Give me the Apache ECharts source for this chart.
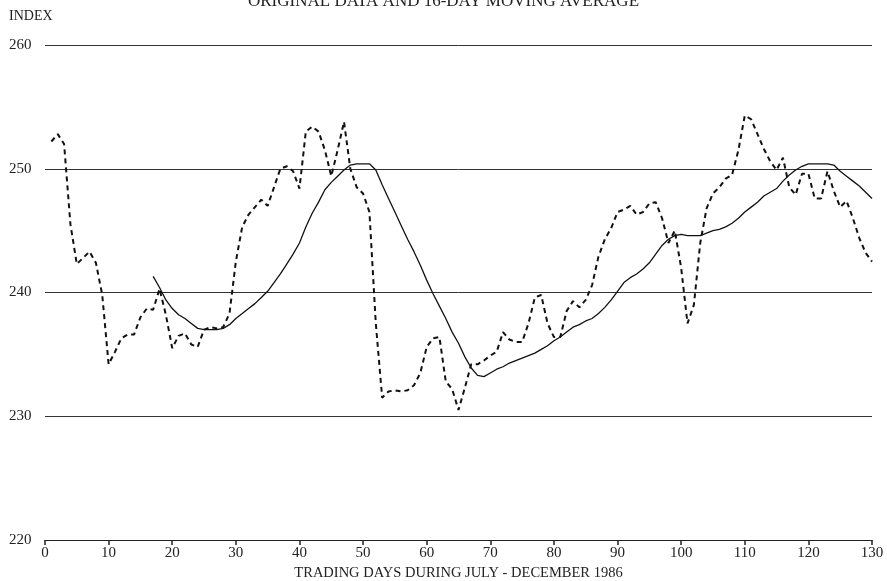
<!DOCTYPE html>
<html>
<head>
<meta charset="utf-8">
<script src="https://cdn.jsdelivr.net/npm/echarts@6/dist/echarts.min.js"></script>
<style>
html,body{margin:0;padding:0;background:#fff;}
#chart{width:887px;height:581px;}
</style>
</head>
<body>
<div id="chart"></div>
<script>
// Original data, trading days 1..130
const originalDays = [];
for (let d = 1; d <= 130; d++) originalDays.push(d);
const originalValues = [
  252.2, 252.8, 252.0, 245.5, 242.3, 242.8, 243.3, 242.4, 239.8, 234.2,
  235.2, 236.3, 236.6, 236.6, 238.0, 238.7, 238.6, 240.3, 238.2, 235.5,
  236.5, 236.7, 235.8, 235.6, 237.0, 237.2, 237.1, 237.2, 238.3, 242.5,
  245.3, 246.3, 246.9, 247.5, 247.0, 248.5, 250.0, 250.2, 249.8, 248.4,
  253.0, 253.4, 253.0, 251.5, 249.4, 251.5, 253.8, 250.0, 248.5, 248.0,
  246.5, 237.5, 231.5, 232.0, 232.1, 232.0, 232.1, 232.5, 233.5, 235.6,
  236.3, 236.4, 232.8, 232.2, 230.5, 232.3, 234.2, 234.2, 234.5, 234.9,
  235.2, 236.8, 236.2, 236.0, 236.0, 237.5, 239.6, 239.8, 237.5, 236.4,
  236.4, 238.5, 239.3, 238.8, 239.4, 240.6, 242.9, 244.3, 245.2, 246.5,
  246.7, 247.0, 246.3, 246.5, 247.2, 247.3, 246.0, 244.0, 245.0, 242.0,
  237.5, 239.0, 244.0, 246.8, 248.0, 248.5, 249.2, 249.5, 251.5, 254.3,
  254.0, 252.8, 251.6, 250.6, 249.9, 250.9, 248.5, 247.9, 249.6, 249.6,
  247.6, 247.6, 249.8, 248.2, 246.9, 247.4, 246.0, 244.4, 243.2, 242.5
];
// 16-day moving average, days 17..130
const maDays = [];
for (let d = 17; d <= 130; d++) maDays.push(d);
const maValues = [
  241.3, 240.4, 239.4, 238.7, 238.2, 237.9, 237.5, 237.1, 237.0, 237.0,
  237.0, 237.1, 237.4, 237.9, 238.3, 238.7, 239.1, 239.6, 240.1, 240.8,
  241.5, 242.3, 243.1, 244.0, 245.3, 246.4, 247.3, 248.3, 248.9, 249.4,
  249.9, 250.3, 250.4, 250.4, 250.4, 249.9, 248.7, 247.6, 246.5, 245.4,
  244.3, 243.3, 242.2, 241.0, 239.9, 238.9, 237.9, 236.8, 235.9, 234.8,
  233.9, 233.3, 233.2, 233.5, 233.8, 234.0, 234.3, 234.5, 234.7, 234.9,
  235.1, 235.4, 235.7, 236.1, 236.4, 236.8, 237.2, 237.4, 237.7, 237.9,
  238.3, 238.8, 239.4, 240.1, 240.8, 241.2, 241.5, 241.9, 242.4, 243.1,
  243.8, 244.3, 244.6, 244.7, 244.6, 244.6, 244.6, 244.8, 245.0, 245.1,
  245.3, 245.6, 246.0, 246.5, 246.9, 247.3, 247.8, 248.1, 248.4, 249.0,
  249.5, 249.9, 250.2, 250.4, 250.4, 250.4, 250.4, 250.3, 249.8, 249.4,
  249.0, 248.6, 248.1, 247.6
];
const titleText = 'ORIGINAL DATA AND 16-DAY MOVING AVERAGE';
const yAxisName = 'INDEX';
const xAxisName = 'TRADING DAYS DURING JULY - DECEMBER 1986';

const serif = '"Liberation Serif", "DejaVu Serif", serif';
const chart = echarts.init(document.getElementById('chart'));
chart.setOption({
  backgroundColor: '#fff',
  animation: false,
  title: {
    text: titleText, left: 'center', top: -12,
    textStyle: {fontFamily: serif, fontSize: 17, fontWeight: 'normal', color: '#222'}
  },
  graphic: [{
    type: 'text', left: 9, top: 9,
    style: {text: yAxisName, fontFamily: serif, fontSize: 14, fill: '#222'}
  }],
  grid: {left: 45, right: 15, top: 45, bottom: 41, containLabel: false, outerBoundsMode: 'none'},
  xAxis: {
    type: 'value', min: 0, max: 130, interval: 10,
    name: xAxisName, nameLocation: 'middle', nameGap: 25,
    nameTextStyle: {fontFamily: serif, fontSize: 14.5, color: '#222'},
    axisLine: {show: true, lineStyle: {color: '#222', width: 1}},
    axisTick: {show: true, inside: false, length: 5, lineStyle: {color: '#222', width: 1.5}},
    axisLabel: {fontFamily: serif, fontSize: 15, color: '#222', margin: 6},
    splitLine: {show: false}
  },
  yAxis: {
    type: 'value', min: 220, max: 260, interval: 10,
    axisLine: {show: false},
    axisTick: {show: false},
    axisLabel: {fontFamily: serif, fontSize: 15, color: '#222', align: 'left', margin: 36},
    splitLine: {show: true, lineStyle: {color: '#333', width: 1}}
  },
  series: [
    {
      type: 'line', name: 'Original', showSymbol: false, smooth: false,
      data: originalDays.map((d, i) => [d, originalValues[i]]),
      lineStyle: {color: '#111', width: 2, type: [5, 4]}
    },
    {
      type: 'line', name: 'MA16', showSymbol: false, smooth: false,
      data: maDays.map((d, i) => [d, maValues[i]]),
      lineStyle: {color: '#111', width: 1.3, type: 'solid'}
    }
  ]
});
</script>
</body>
</html>
